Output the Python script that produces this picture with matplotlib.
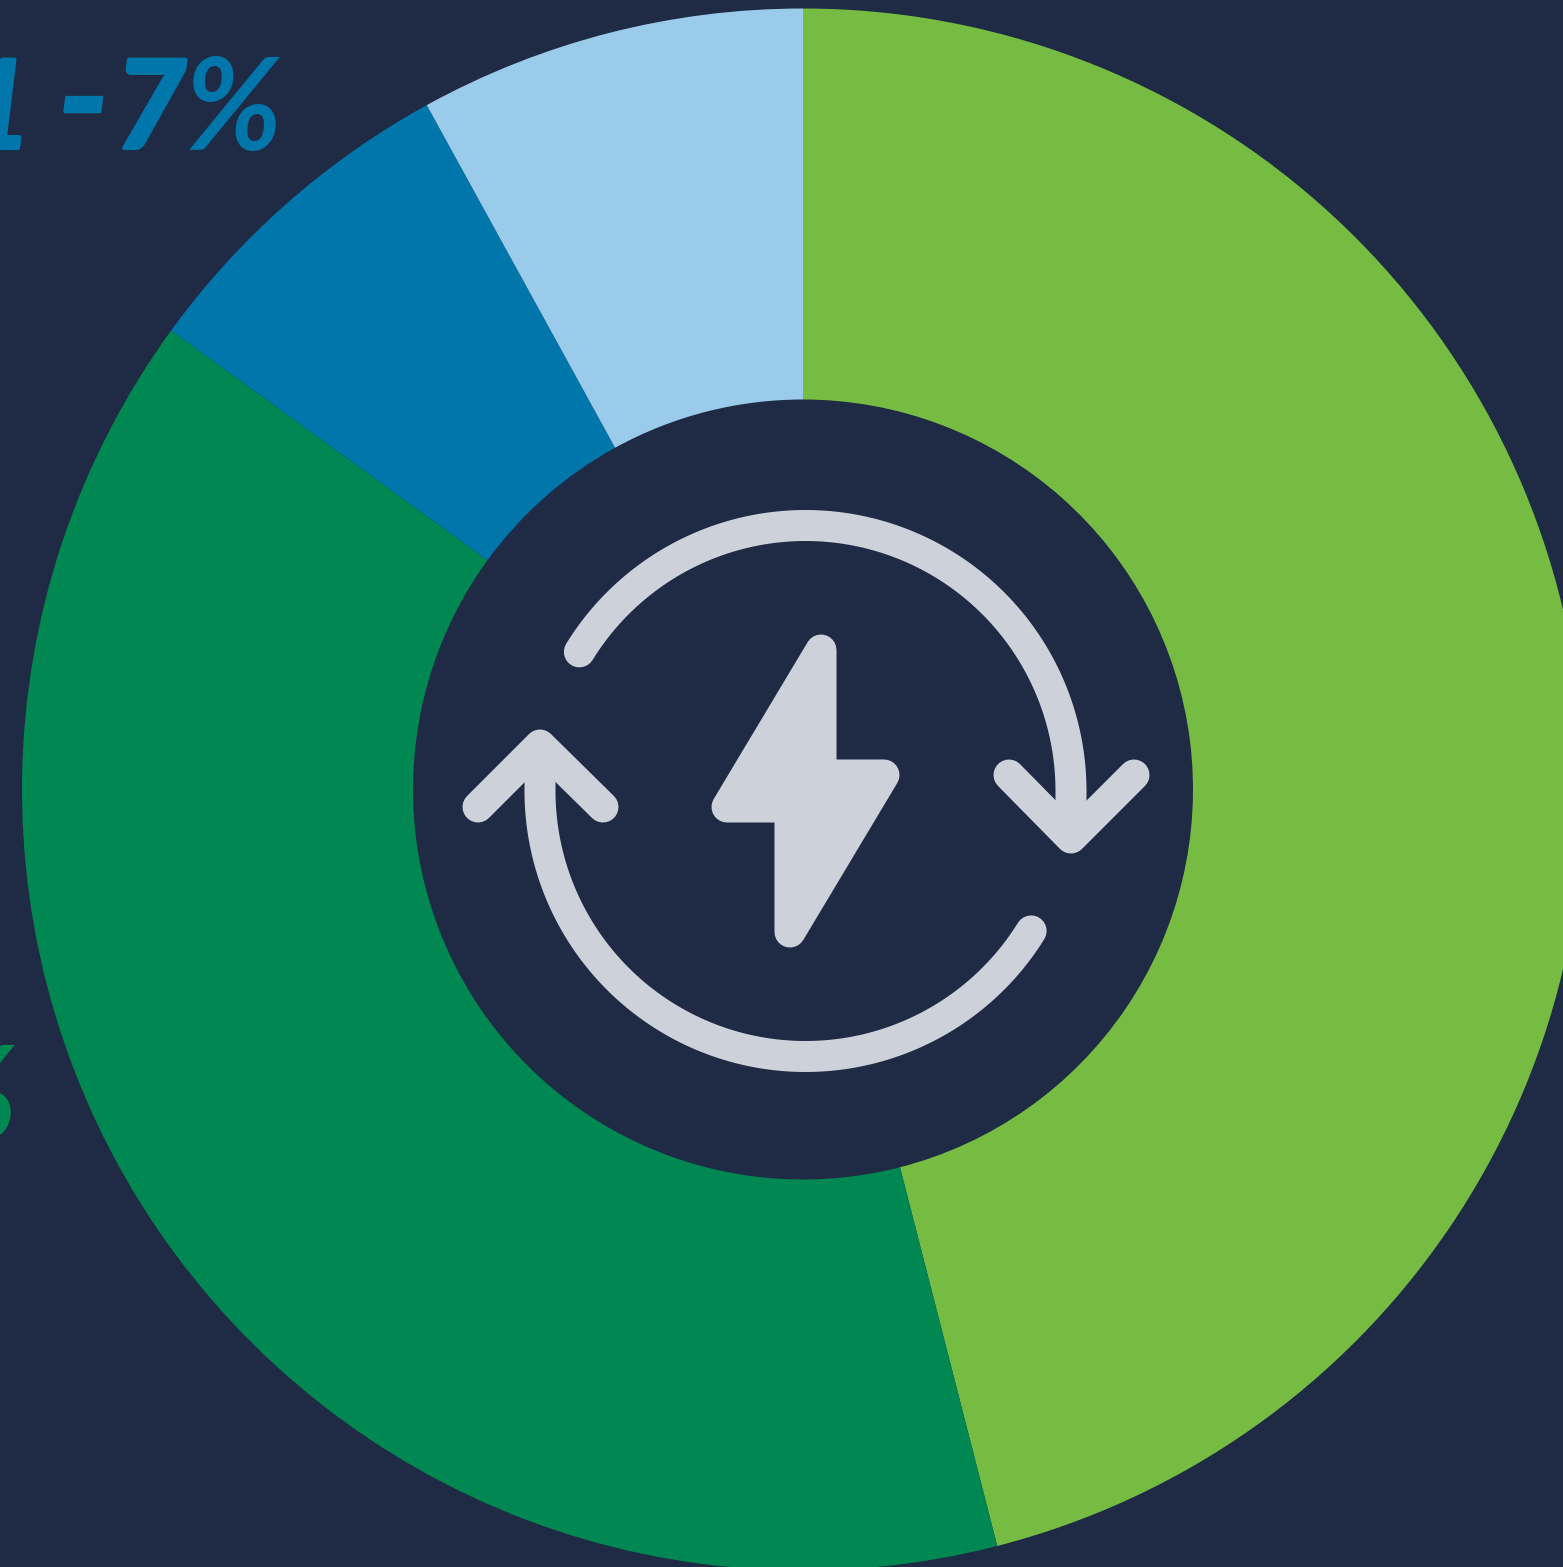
import numpy as np
import matplotlib
matplotlib.use('Agg')
import matplotlib.pyplot as plt
import matplotlib.patheffects as pe
from matplotlib.patches import Polygon

W, H = 1563, 1567

# Share of each slice, clockwise from the top
shares = [46, 39, 7, 8]
colors = ['#76BC43', '#008752', '#0076AB', '#9BCBEB']
label_blue = ['1', '-', '7', '%']
label_green = '%'

BG = '#1F2A44'
ICON = '#CDD2DA'

def Y(y):
    # picture rows run downwards, the axes run upwards
    return H - y

fig = plt.figure(figsize=(W / 100, H / 100), dpi=100, facecolor=BG)
ax = fig.add_axes([0, 0, 1, 1])
ax.set_facecolor(BG)

ax.pie(shares, colors=colors, startangle=90, counterclock=False,
       center=(803, Y(789.5)), radius=781,
       wedgeprops=dict(width=391, linewidth=0), frame=True)
ax.set_xlim(0, W)
ax.set_ylim(0, H)
ax.set_aspect('auto')
ax.axis('off')

# Clipped labels left of the ring, the wide gaps need each glyph on its own
def glyph(x, y, s, color, size, thick=0):
    t = ax.text(x, Y(y), s, color=color, fontsize=size, family='Lato',
                weight='bold', style='italic', ha='right', va='baseline')
    if thick:
        t.set_path_effects([pe.withStroke(linewidth=thick, foreground=color)])

glyph(282, 150, label_blue[3], '#0076AB', 92)
glyph(186, 148, label_blue[2], '#0076AB', 88, 3)
glyph(109, 149, label_blue[1], '#0076AB', 106, 2)
glyph(32, 148, label_blue[0], '#0076AB', 88, 3)
glyph(17, 1138, label_green, '#008752', 92)

# Icon in the hole
lw = 31 * 72 / 100
cx, cy, r = 805.5, 791, 265.5

def stroke(xs, ys):
    ax.plot(xs, [Y(v) for v in ys], color=ICON, lw=lw, solid_capstyle='round',
            solid_joinstyle='round')

t = np.radians(np.linspace(148.4, 0, 120))
stroke(np.r_[cx + r * np.cos(t), 1071], np.r_[cy - r * np.sin(t), 825])
stroke([1009, 1071, 1134], [775, 838, 775])

t = np.radians(np.linspace(328.2, 180, 120))
stroke(np.r_[cx + r * np.cos(t), 540], np.r_[cy - r * np.sin(t), 758])
stroke([478, 540, 603], [807, 745, 807])

bolt = [(821, 650), (727, 807), (790, 807), (790, 932), (884, 775), (821, 775)]
ax.add_patch(Polygon([(x, Y(y)) for x, y in bolt], closed=True, facecolor=ICON,
                     edgecolor=ICON, lw=lw, joinstyle='round'))

fig.savefig('out.png', dpi=100, facecolor=BG)
